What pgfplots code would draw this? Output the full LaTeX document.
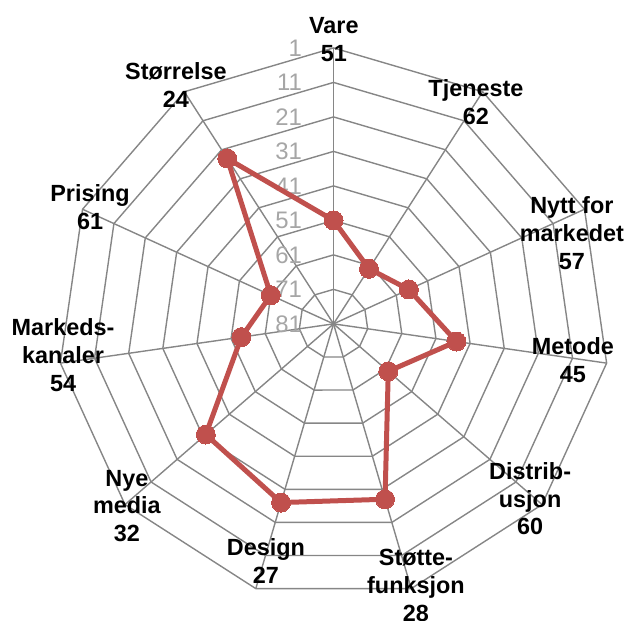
\documentclass[border=0pt]{standalone}
\usepackage{fontspec}
\setmainfont{Liberation Sans}
\usepackage{pgfplots}
\pgfplotsset{compat=1.18}
\usepackage{pgfplotstable}

\definecolor{serie}{RGB}{192,80,77}
\definecolor{nett}{RGB}{134,134,134}
\definecolor{tikkgraa}{RGB}{166,166,166}

\tikzset{cat/.style={font=\fontsize{23.5}{28}\selectfont\bfseries, align=center, text=black}}

% idx = spoke number (clockwise from top), val = score (1 outside, 81 centre)
\pgfplotstableread{
idx val
0 51
1 62
2 57
3 45
4 60
5 28
6 27
7 32
8 54
9 61
10 24
11 51
}\radar

\begin{document}
\begin{tikzpicture}
\begin{axis}[
    x=3.45bp, y=3.45bp,
    xmin=-96.7, xmax=84.8,
    ymin=-86.1, ymax=93.9,
    hide axis, clip=false,
  ]
  \coordinate (bl) at (rel axis cs:0,0);
  \coordinate (tr) at (rel axis cs:1,1);
  % rings
  \pgfplotsinvokeforeach{10,20,...,80}{
    \draw[nett, line width=1.4bp] (axis cs:0,#1)
      \foreach \k in {1,...,10} { -- (axis cs:{#1*cos(90-\k*360/11)},{#1*sin(90-\k*360/11)}) } -- cycle;
  }
  % spokes
  \pgfplotsinvokeforeach{0,...,10}{
    \draw[nett, line width=1.4bp] (axis cs:0,0) -- (axis cs:{80*cos(90-#1*360/11)},{80*sin(90-#1*360/11)});
  }
  % radial tick labels
  \pgfplotsinvokeforeach{1,11,...,81}{
    \node[anchor=east, text=tikkgraa, font=\fontsize{24}{24}\selectfont, inner sep=0pt] at (axis cs:-9.1,{81-#1}) {#1};
  }

  \addplot[serie, line width=5bp, mark=*, mark size=9.5bp, mark options={fill=serie, draw=serie, line width=0bp}]
    table[x expr={(81-\thisrow{val})*cos(90-\thisrow{idx}*360/11)},
          y expr={(81-\thisrow{val})*sin(90-\thisrow{idx}*360/11)}] {\radar};

  \node[cat] at (axis cs:0.1,82.3) {Vare\\51};
  \node[cat] at (axis cs:41.3,64.3) {Tjeneste\\62};
  \node[cat] at (axis cs:69.1,26.4) {Nytt for\\markedet\\57};
  \node[cat] at (axis cs:69.4,-10.4) {Metode\\45};
  \node[cat] at (axis cs:57.0,-50.7) {Distrib-\\usjon\\60};
  \node[cat] at (axis cs:23.9,-75.9) {Støtte-\\funksjon\\28};
  \node[cat] at (axis cs:-19.6,-68.7) {Design\\27};
  \node[cat] at (axis cs:-59.9,-52.8) {Nye\\media\\32};
  \node[cat] at (axis cs:-78.4,-9.0) {Markeds-\\kanaler\\54};
  \node[cat] at (axis cs:-70.6,33.9) {Prising\\61};
  \node[cat] at (axis cs:-45.7,69.3) {Størrelse\\24};
\end{axis}
\pgfresetboundingbox
\path[use as bounding box] (bl) rectangle (tr);
\end{tikzpicture}
\end{document}
